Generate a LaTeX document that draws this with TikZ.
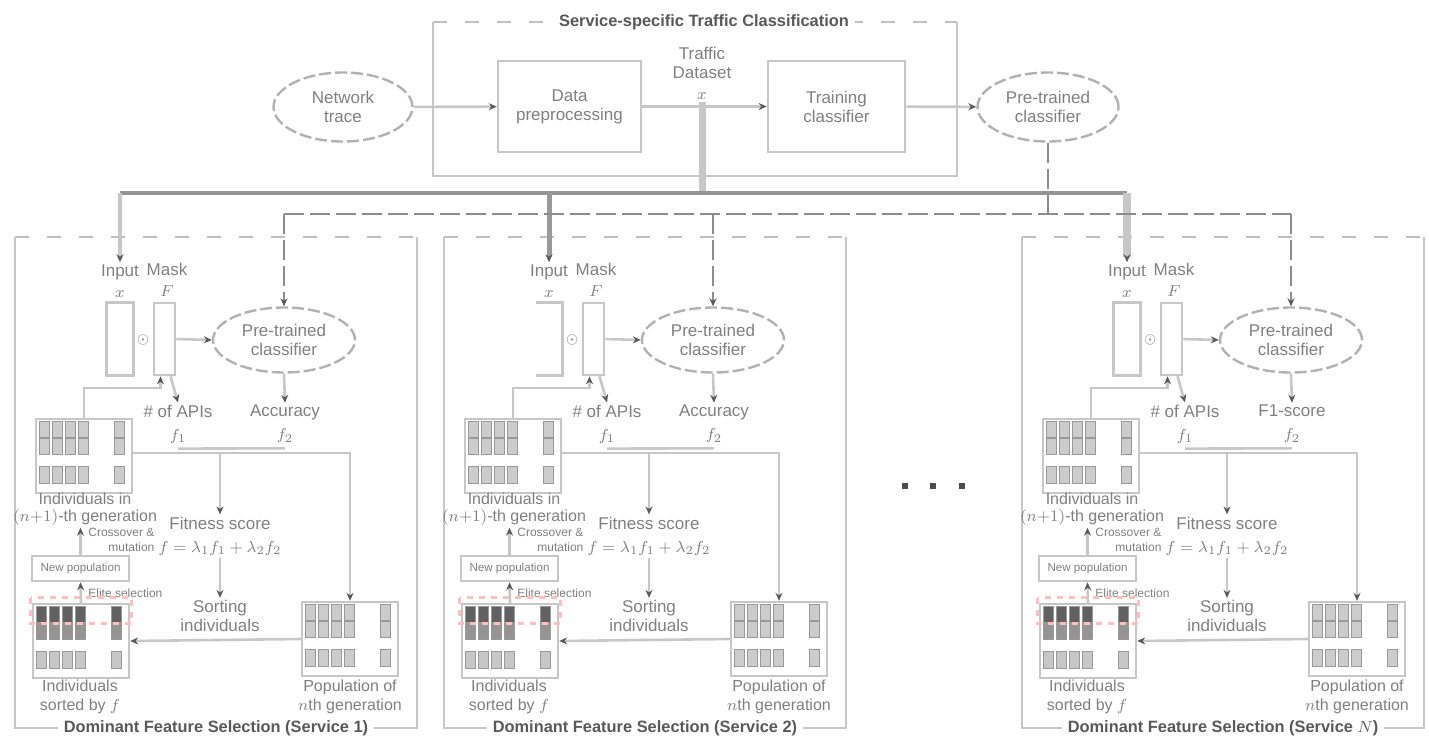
\documentclass[tikz,border=0pt]{standalone}
\usepackage{fontspec}
\setmainfont{Liberation Sans}
\usetikzlibrary{arrows.meta,calc,shapes.geometric}
\newcommand{\popcells}[4]{%
  \foreach \cx in {5,18,31,44,80}{
    \draw[cell,fill=#2] ([shift={(\cx,4)}]#1.north west) rectangle ++(10,16);
    \draw[cell,fill=#3] ([shift={(\cx,21)}]#1.north west) rectangle ++(10,16);
    \draw[cell,fill=#4] ([shift={(\cx,49)}]#1.north west) rectangle ++(10,17);
  }}
\begin{document}
\begin{tikzpicture}[x=0.5pt,y=-0.5pt,
  font=\fontsize{8.5}{9.5}\selectfont,
  ln/.style={draw=black!22,line width=1.3pt},
  arr/.style={ln,-{Stealth[length=4pt,width=3.5pt,color=black!65]}},
  dln/.style={draw=black!45,line width=1.3pt,dash pattern=on 10pt off 3pt},
  darr/.style={dln,-{Stealth[length=4pt,width=3.5pt,color=black!65]}},
  txt/.style={text=black!50,align=center,inner sep=1pt},
  box/.style={draw=black!22,line width=1.3pt,rectangle,txt},
  ell/.style={draw=black!30,line width=1.2pt,dash pattern=on 6pt off 2pt,ellipse,txt,inner sep=0pt},
  pframe/.style={draw=black!22,line width=1.3pt},
  dframe/.style={draw=black!25,line width=1.3pt,dash pattern=on 7pt off 9pt},
  ttl/.style={text=black!65,font=\fontsize{8.2}{9}\selectfont\bfseries,fill=white,inner xsep=3pt,inner ysep=1pt},
  mat/.style={draw=black!22,line width=1.2pt,minimum width=48pt,minimum height=37pt,inner sep=0pt},
  cell/.style={draw=black!40,line width=0.5pt},
  smalltxt/.style={txt,font=\fontsize{6}{7.3}\selectfont},
  mtxt/.style={txt,font=\fontsize{8}{8.5}\selectfont},
]
\useasboundingbox (0,0) rectangle (1429,735);

% ---------- top: service-specific traffic classification ----------
\draw[dframe] (433,22) -- (957,22);
\draw[pframe] (433,22) -- (433,176) -- (957,176) -- (957,22);
\node[ttl] (title) at (704,22) {Service-specific Traffic Classification};
\node[ell,minimum width=69.5pt,minimum height=34.5pt] (nt) at (343,107) {Network\\trace};
\node[box,minimum width=71.5pt,minimum height=45.5pt] (dp) at (569.5,106.5) {Data\\preprocessing};
\node[txt] (ds) at (702,73) {Traffic\\Dataset\\[1pt]$x$};
\node[box,minimum width=68.5pt,minimum height=45.5pt] (tc) at (836.5,106.5) {Training\\classifier};
\node[ell,minimum width=70.5pt,minimum height=34.5pt] (ptc) at (1048,107) {Pre-trained\\classifier};
\draw[arr] (nt) -- (dp);
\draw[arr] (dp) -- (tc);
\draw[arr] (tc) -- (ptc);

% ---------- panels ----------
\foreach \ox/\sv/\p/\acc/\il in {0/1/a/Accuracy/1, 429/2/b/Accuracy/0, 1007/{$N$}/c/F1-score/1}{
\begin{scope}[shift={(\ox,0)}]
  \draw[dframe] (15,237) -- (417,237);
  \draw[pframe] (15,237) -- (15,728) -- (417,728) -- (417,237);
  \node[ttl] (\p-ttl) at (216,728) {Dominant Feature Selection (Service \sv)};
  \node[txt] (\p-inlbl) at (120,281) {Input\\[1pt]$x$};
  \node[txt] (\p-masklbl) at (167,280) {Mask\\[1pt]$F$};
  \node[inner sep=0pt,minimum width=13pt,minimum height=36pt] (\p-in) at (120,339) {};
  \ifnum\il=1
    \draw[ln] (\p-in.north west) rectangle (\p-in.south east);
  \else
    \draw[ln] (\p-in.north west) -- (\p-in.north east) -- (\p-in.south east) -- (\p-in.south west);
  \fi
  \node[box,inner sep=0pt,minimum width=10.5pt,minimum height=36pt] (\p-mask) at (164.5,339) {};
  \node[txt,font=\fontsize{7}{8}\selectfont] (\p-odot) at (143,340) {$\odot$};
  \node[ell,minimum width=71pt,minimum height=32.5pt] (\p-clf) at (284,340) {Pre-trained\\classifier};
  \node[txt] (\p-num) at (178,424) {\# of APIs\\[2pt]$f_1$};
  \node[txt] (\p-acc) at (285,424) {\acc\\[2pt]$f_2$};
  \node[mat] (\p-m1) at (84,456) {};
  \popcells{\p-m1}{black!20}{black!20}{black!20}
  \node[mtxt] (\p-m1l) at (85,509) {Individuals in\\$(n{+}1)$-th generation};
  \node[box,font=\fontsize{5.8}{7}\selectfont,inner sep=0pt,minimum width=48.5pt,minimum height=12.5pt] (\p-np) at (80.5,568.5) {New population};
  \node[smalltxt,align=right,anchor=west] (\p-cx) at (86,540) {Crossover \&\\mutation};
  \node[smalltxt,anchor=west] (\p-el) at (86,593) {Elite selection};
  \node[mat] (\p-m2) at (81,641) {};
  \popcells{\p-m2}{black!62}{black!42}{black!22}
  \draw[draw=red!25,line width=1.5pt,dash pattern=on 3pt off 3pt] ([shift={(-1,-5)}]\p-m2.north west) rectangle ([shift={(1,21)}]\p-m2.north east);
  \node[mtxt] (\p-m2l) at (80,697) {Individuals\\[1pt]sorted by $f$};
  \node[mat] (\p-m3) at (350,639) {};
  \popcells{\p-m3}{black!20}{black!20}{black!20}
  \node[mtxt] (\p-m3l) at (350,697) {Population of\\[1pt]$n$th generation};
  \node[txt] (\p-fit) at (220,536) {Fitness score\\[2pt]$f=\lambda_1 f_1+\lambda_2 f_2$};
  \node[txt] (\p-sort) at (220,616) {Sorting\\individuals};
  % connectors
  \draw[arr] (\p-mask.east) -- (\p-clf.west);
  \draw[arr] (\p-clf.south) -- (\p-acc.north);
  \draw[arr] ([xshift=3pt]\p-mask.south) -- (\p-num.north);
  \draw[arr] (\p-m1.north) -- ++(0,-30) -| ([xshift=-2pt]\p-mask.south);
  \draw[ln] ([yshift=-1.5pt]\p-num.south) -- ([yshift=-1.5pt]\p-acc.south);
  \draw[arr] ([yshift=1.5pt]\p-m1.east) -| (\p-m3.north);
  \draw[arr] ([yshift=1.5pt]\p-fit.north |- \p-m1.east) -- (\p-fit.north);
  \draw[arr] (\p-fit.south) -- (\p-sort.north);
  \draw[arr] (\p-m3.west) -- (\p-m2.east);
  \draw[arr] (\p-m2.north) -- (\p-np.south);
  \draw[arr] (\p-np.north) -- (\p-m1l.south -| \p-np.north);
\end{scope}}

% ---------- buses ----------
\coordinate (sbus) at (702,193);
\draw[draw=black!22,line width=3.5pt] (ds.south) -- (sbus);
\draw[draw=black!42,line width=1.6pt] (a-inlbl.north |- sbus) -- (c-inlbl.north |- sbus);
\draw[arr,line width=1.6pt] (a-inlbl.north |- sbus) -- (a-inlbl.north);
\draw[arr,draw=black!40,line width=2.5pt] (b-inlbl.north |- sbus) -- (b-inlbl.north);
\draw[arr,line width=4pt] (c-inlbl.north |- sbus) -- (c-inlbl.north);
\coordinate (dbus) at (1048,214);
\draw[dln] (ptc.south) -- (dbus);
\draw[dln] (a-clf.north |- dbus) -- (c-clf.north |- dbus);
\draw[darr] (a-clf.north |- dbus) -- (a-clf.north);
\draw[darr] (b-clf.north |- dbus) -- (b-clf.north);
\draw[darr] (c-clf.north |- dbus) -- (c-clf.north);

% ---------- ellipsis dots ----------
\fill[black!70] (902,483) rectangle ++(6,6);
\fill[black!70] (930,483) rectangle ++(6,6);
\fill[black!70] (959,483) rectangle ++(6,6);
\end{tikzpicture}
\end{document}
